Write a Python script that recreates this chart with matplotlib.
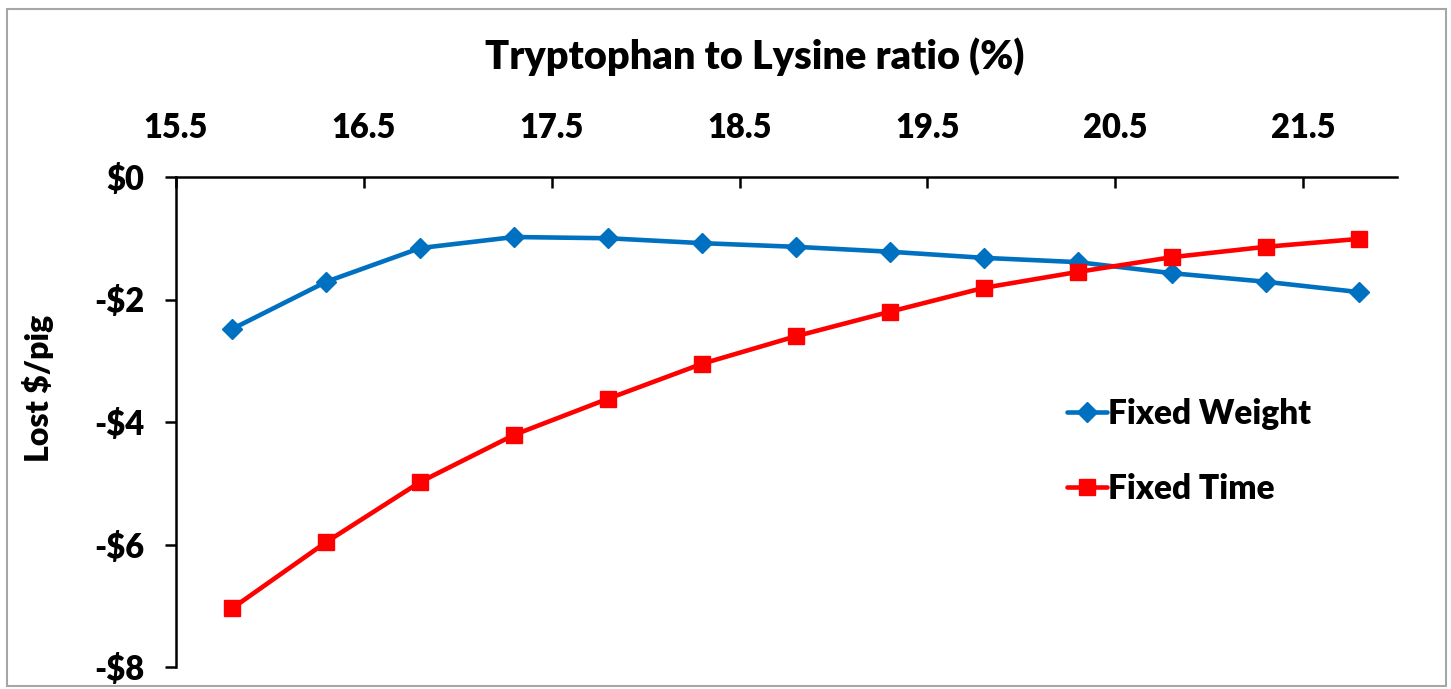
import matplotlib
matplotlib.use("Agg")
import matplotlib.pyplot as plt
from matplotlib.patches import Rectangle
from matplotlib.ticker import FuncFormatter

# ---- data ----
ratio = [15.8, 16.3, 16.8, 17.3, 17.8, 18.3, 18.8, 19.3, 19.8, 20.3, 20.8, 21.3, 21.8]
fixed_weight = [-2.48, -1.71, -1.16, -0.98, -1.00, -1.08, -1.14, -1.22, -1.32, -1.39, -1.57, -1.71, -1.88]
fixed_time = [-7.04, -5.96, -4.98, -4.21, -3.62, -3.05, -2.60, -2.20, -1.81, -1.55, -1.31, -1.14, -1.01]
x_ticks = [15.5, 16.5, 17.5, 18.5, 19.5, 20.5, 21.5]
y_ticks = [0, -2, -4, -6, -8]
series_names = ["Fixed Weight", "Fixed Time"]
title = "Tryptophan to Lysine ratio (%)"
ylabel = "Lost $/pig"

plt.rcParams['font.family'] = ['Lato', 'DejaVu Sans']
WEIGHT = "heavy"
plt.rcParams['font.weight'] = WEIGHT

W, H = 1451, 689
fig = plt.figure(figsize=(W / 100, H / 100), dpi=100)
ax = fig.add_axes([176 / W, 1 - 667 / H, (1397 - 176) / W, (667 - 177) / H])

blue = "#0070C0"
red = "#FF0000"
ax.plot(ratio, fixed_weight, color=blue, lw=3.3, marker="D", ms=10,
        label=series_names[0], solid_capstyle="round", zorder=3)
ax.plot(ratio, fixed_time, color=red, lw=3.3, marker="s", ms=11.5,
        label=series_names[1], solid_capstyle="round", zorder=3)

ax.set_xlim(15.5, 22.0)
ax.set_ylim(-8, 0)

ax.xaxis.set_ticks_position("top")
ax.xaxis.set_label_position("top")
ax.set_xticks(x_ticks)
ax.set_xticklabels([f"{v:.1f}" for v in x_ticks])
ax.set_yticks(y_ticks)
ax.yaxis.set_major_formatter(FuncFormatter(lambda v, p: ("-$%d" % abs(v)) if v < 0 else "$%d" % v))

ax.tick_params(axis="x", direction="in", length=8, width=1.8, pad=24, labelsize=23.5, colors="black")
ax.tick_params(axis="y", direction="out", length=8, width=1.8, pad=15, labelsize=23.5, colors="black")
for lab in ax.get_xticklabels() + ax.get_yticklabels():
    lab.set_fontweight(WEIGHT)

for s in ["bottom", "right"]:
    ax.spines[s].set_visible(False)
for s in ["top", "left"]:
    ax.spines[s].set_linewidth(1.8)
    ax.spines[s].set_color("black")

fig.text(755 / W, 1 - 57 / H, title, ha="center", va="center", fontsize=28.5, fontweight=WEIGHT)
fig.text(38 / W, 1 - 388 / H, ylabel, ha="center", va="center", rotation=90, fontsize=23, fontweight=WEIGHT)

leg = ax.legend(loc="upper left", bbox_to_anchor=(1050 / W, 1 - 381 / H),
                bbox_transform=fig.transFigure, frameon=False, fontsize=24,
                handlelength=1.2, handletextpad=0.05, labelspacing=1.3, borderpad=0)
for t in leg.get_texts():
    t.set_fontweight(WEIGHT)

fig.patches.append(Rectangle((7 / W, 1 - 686 / H), (1446 - 7) / W, (686 - 9) / H,
                             transform=fig.transFigure, fill=False,
                             edgecolor="#a6a6a6", lw=1.5))

fig.savefig("out.png", dpi=100)
